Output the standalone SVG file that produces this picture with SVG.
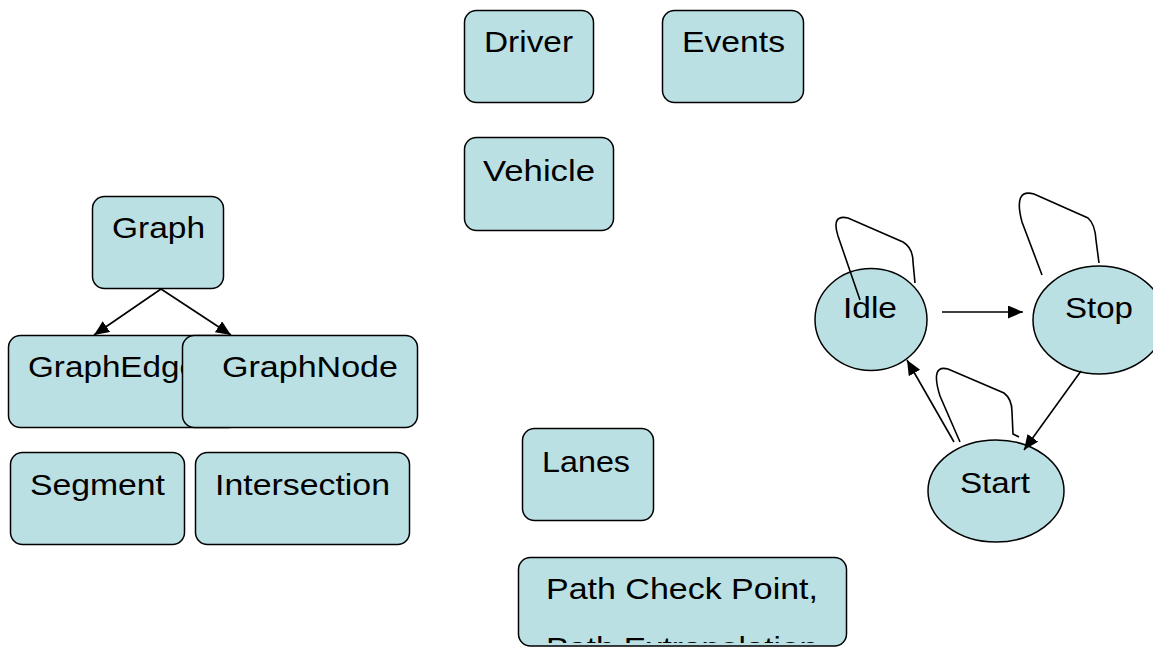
<svg xmlns="http://www.w3.org/2000/svg" width="1153" height="647" viewBox="0 0 1153 647">
  <style>
    .box { fill: #bbe0e3; stroke: #000; stroke-width: 1.5; }
    .lbl { font-family: "Liberation Sans", Arial, sans-serif; font-size: 30px; fill: #000; }
    .edge { fill: none; stroke: #000; stroke-width: 1.6; }
  </style>
  <defs>
    <marker id="arrow" markerUnits="userSpaceOnUse" markerWidth="16" markerHeight="14" refX="15" refY="6.5" orient="auto">
      <path d="M0,0 L15,6.5 L0,13 z" fill="#000"/>
    </marker>
    <!-- text inside the check-point box stays within its frame -->
    <clipPath id="pcpClip">
      <rect x="518" y="557" width="329" height="86"/>
    </clipPath>
  </defs>

  <rect width="1153" height="647" fill="#fff"/>

  <!-- class boxes -->
  <g id="driver">
    <rect class="box" x="464.5" y="10.5" width="129" height="92" rx="12"/>
    <text class="lbl" x="484" y="52" textLength="89" lengthAdjust="spacingAndGlyphs">Driver</text>
  </g>
  <g id="events">
    <rect class="box" x="662.5" y="10.5" width="141" height="92" rx="12"/>
    <text class="lbl" x="682" y="52" textLength="103" lengthAdjust="spacingAndGlyphs">Events</text>
  </g>
  <g id="vehicle">
    <rect class="box" x="464.5" y="137.5" width="149" height="93" rx="12"/>
    <text class="lbl" x="483" y="181" textLength="112" lengthAdjust="spacingAndGlyphs">Vehicle</text>
  </g>
  <g id="graph">
    <rect class="box" x="92.5" y="196.5" width="131" height="92" rx="12"/>
    <text class="lbl" x="112" y="238" textLength="93" lengthAdjust="spacingAndGlyphs">Graph</text>
  </g>
  <g id="graphedge">
    <rect class="box" x="8.5" y="335.5" width="232" height="92" rx="12"/>
    <text class="lbl" x="28" y="377" textLength="170" lengthAdjust="spacingAndGlyphs">GraphEdge</text>
  </g>
  <g id="graphnode">
    <rect class="box" x="182.5" y="335.5" width="235" height="92" rx="12"/>
    <text class="lbl" x="222" y="377" textLength="176" lengthAdjust="spacingAndGlyphs">GraphNode</text>
  </g>
  <g id="segment">
    <rect class="box" x="10.5" y="452.5" width="174" height="92" rx="12"/>
    <text class="lbl" x="30" y="495" textLength="135" lengthAdjust="spacingAndGlyphs">Segment</text>
  </g>
  <g id="intersection">
    <rect class="box" x="195.5" y="452.5" width="214" height="92" rx="12"/>
    <text class="lbl" x="215" y="495" textLength="175" lengthAdjust="spacingAndGlyphs">Intersection</text>
  </g>
  <g id="lanes">
    <rect class="box" x="522.5" y="428.5" width="131" height="92" rx="12"/>
    <text class="lbl" x="542" y="472" textLength="88" lengthAdjust="spacingAndGlyphs">Lanes</text>
  </g>
  <g id="path-check-point">
    <rect class="box" x="518.5" y="557.5" width="328" height="88.5" rx="12"/>
    <g clip-path="url(#pcpClip)">
      <text class="lbl" x="546" y="599" textLength="272" lengthAdjust="spacingAndGlyphs">Path Check Point,</text>
      <text class="lbl" x="546" y="658" textLength="272" lengthAdjust="spacingAndGlyphs">Path Extrapolation</text>
    </g>
  </g>

  <!-- state nodes -->
  <g id="idle">
    <ellipse class="box" cx="871" cy="319.5" rx="56" ry="51"/>
    <text class="lbl" x="843" y="318" textLength="54" lengthAdjust="spacingAndGlyphs">Idle</text>
  </g>
  <g id="stop">
    <ellipse class="box" cx="1099" cy="320" rx="66" ry="54"/>
    <text class="lbl" x="1065" y="318" textLength="68" lengthAdjust="spacingAndGlyphs">Stop</text>
  </g>
  <g id="start">
    <ellipse class="box" cx="996" cy="491" rx="68" ry="51"/>
    <text class="lbl" x="960" y="493" textLength="70" lengthAdjust="spacingAndGlyphs">Start</text>
  </g>

  <!-- connectors -->
  <g id="connectors">
    <line class="edge" x1="161" y1="289" x2="94" y2="335" marker-end="url(#arrow)"/>
    <line class="edge" x1="161" y1="289" x2="231" y2="335" marker-end="url(#arrow)"/>
    <line class="edge" x1="942" y1="312" x2="1023" y2="312" marker-end="url(#arrow)"/>
    <line class="edge" x1="1081" y1="371" x2="1024" y2="450" marker-end="url(#arrow)"/>
    <line class="edge" x1="954" y1="442" x2="907" y2="360" marker-end="url(#arrow)"/>
    <!-- self loops -->
    <path class="edge" d="M860,300 L838,236 Q831,214 848,218 L903,242 Q913,248 913,262 L915,283"/>
    <path class="edge" d="M1042,275 L1022,222 Q1013,188 1034,194 L1088,218 Q1095,224 1096,240 L1099,263"/>
    <path class="edge" d="M960,442 L940,396 Q930,364 948,369 L1004,393 Q1012,399 1012,412 L1013,434 L1019,437"/>
  </g>
</svg>
